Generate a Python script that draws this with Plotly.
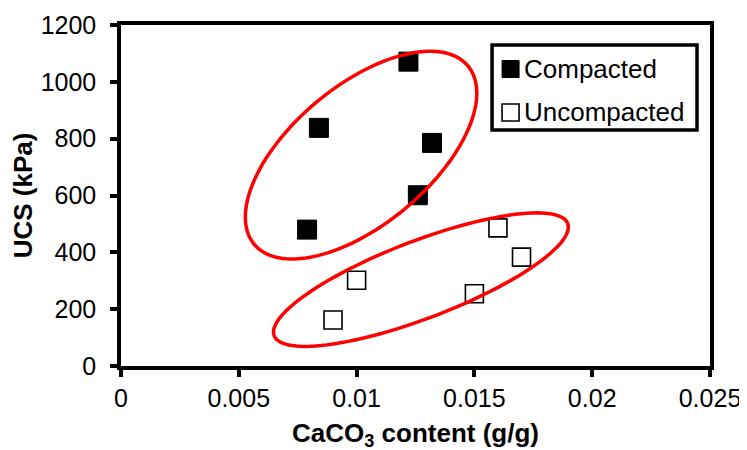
import numpy as np
import plotly.graph_objects as go

# ---- data ----
compacted_x = [0.0079, 0.0084, 0.0122, 0.0126, 0.0132]
compacted_y = [480, 838, 1071, 601, 785]
uncompacted_x = [0.0090, 0.0100, 0.0150, 0.0160, 0.0170]
uncompacted_y = [162, 302, 254, 486, 383]
series_names = ["Compacted", "Uncompacted"]
x_ticks = [0, 0.005, 0.01, 0.015, 0.02, 0.025]
x_ticklabels = ["0", "0.005", "0.01", "0.015", "0.02", "0.025"]
y_ticks = [0, 200, 400, 600, 800, 1000, 1200]

X_RANGE = [0, 0.025]
Y_RANGE = [0, 1200]

# page is drawn with an 8px body margin, so compensate in figure margins
W, H = 747, 450
PAGE_OFF = 8
PLOT_L, PLOT_R, PLOT_T, PLOT_B = 120.8, 710.0, 25.0, 365.8   # target window px
M = dict(l=PLOT_L - PAGE_OFF, r=W - (PLOT_R - PAGE_OFF),
         t=PLOT_T - PAGE_OFF, b=H - (PLOT_B - PAGE_OFF), pad=0)
plot_w = PLOT_R - PLOT_L
plot_h = PLOT_B - PLOT_T


def px2paper(px, py):
    return (px - PLOT_L) / plot_w, (PLOT_B - py) / plot_h


# group ellipses: centre (data units), semi-axes (px), tilt (deg)
ellipses = [
    dict(cx=0.01019, cy=742, a=139.2, b=69.3, ang=39.8),
    dict(cx=0.01273, cy=304, a=157.2, b=38.7, ang=20.9),
]


def ellipse_path(e, n=120):
    t = np.linspace(0, 2 * np.pi, n, endpoint=False)
    th = np.deg2rad(e["ang"])
    dx = e["a"] * np.cos(t) * np.cos(th) - e["b"] * np.sin(t) * np.sin(th)
    dy = e["a"] * np.cos(t) * np.sin(th) + e["b"] * np.sin(t) * np.cos(th)
    xs = e["cx"] + dx / plot_w * (X_RANGE[1] - X_RANGE[0])
    ys = e["cy"] + dy / plot_h * (Y_RANGE[1] - Y_RANGE[0])
    pts = [f"{x:.6f},{y:.3f}" for x, y in zip(xs, ys)]
    return "M " + " L ".join(pts) + " Z"


FONT = "Liberation Sans, Arial, sans-serif"
TICK_SIZE = 25
TITLE_SIZE = 26
LEG_SIZE = 26

fig = go.Figure()
fig.add_trace(go.Scatter(
    x=compacted_x, y=compacted_y, mode="markers", name=series_names[0],
    marker=dict(symbol="square", size=19, color="black",
                line=dict(color="black", width=1)),
))
fig.add_trace(go.Scatter(
    x=uncompacted_x, y=uncompacted_y, mode="markers", name=series_names[1],
    marker=dict(symbol="square", size=18, color="white",
                line=dict(color="black", width=1.6)),
))

for e in ellipses:
    fig.add_shape(type="path", path=ellipse_path(e), xref="x", yref="y",
                  line=dict(color="#FF0000", width=3.5), layer="above")

# ---- legend box (drawn by hand to match the boxed legend) ----
lx0, ly0 = px2paper(492, 130)
lx1, ly1 = px2paper(697, 45)
fig.add_shape(type="rect", xref="paper", yref="paper", x0=lx0, x1=lx1,
              y0=ly0, y1=ly1, line=dict(color="black", width=3.5),
              fillcolor="white", layer="above")
leg_rows = [
    dict(name=series_names[0], sym_y=69, fill="black", lw=1),
    dict(name=series_names[1], sym_y=112.5, fill="white", lw=1.6),
]
for r in leg_rows:
    sx, sy = px2paper(510.5, r["sym_y"])
    hx, hy = 8.5 / plot_w, 8.5 / plot_h
    fig.add_shape(type="rect", xref="paper", yref="paper",
                  x0=sx - hx, x1=sx + hx, y0=sy - hy, y1=sy + hy,
                  fillcolor=r["fill"], line=dict(color="black", width=r["lw"]),
                  layer="above")
    tx, ty = px2paper(522, r["sym_y"] - 0.5)
    fig.add_annotation(text=r["name"], xref="paper", yref="paper", x=tx, y=ty,
                       xanchor="left", yanchor="middle", showarrow=False,
                       font=dict(family=FONT, size=LEG_SIZE, color="black"))

axis_common = dict(
    showgrid=False, zeroline=False, showline=True, linecolor="black",
    linewidth=3.5, mirror=True, ticks="outside", ticklen=7, tickwidth=3.5,
    tickcolor="black", automargin=False,
    tickfont=dict(family=FONT, size=TICK_SIZE, color="black"),
)

fig.update_layout(
    width=W, height=H, margin=M,
    paper_bgcolor="white", plot_bgcolor="white",
    font=dict(family=FONT, size=TICK_SIZE, color="black"),
    xaxis=dict(range=X_RANGE, tickvals=x_ticks, ticktext=x_ticklabels,
               title=dict(text="<b>CaCO<sub>3</sub> content (g/g)</b>",
                          font=dict(family=FONT, size=TITLE_SIZE), standoff=14),
               **axis_common),
    yaxis=dict(range=Y_RANGE, tickvals=y_ticks, ticklabelstandoff=9,
               title=dict(text="<b>UCS (kPa)</b>",
                          font=dict(family=FONT, size=TITLE_SIZE), standoff=2),
               **axis_common),
    showlegend=False,
)

fig.write_html("out.html")
